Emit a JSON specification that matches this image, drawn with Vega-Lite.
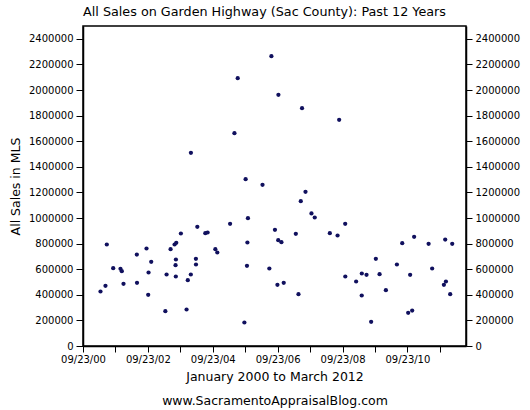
{
  "$schema": "https://vega.github.io/schema/vega-lite/v6.json",
  "width": 383,
  "height": 320,
  "autosize": "none",
  "padding": {"left": 83, "top": 26, "right": 64, "bottom": 64},
  "background": "white",
  "config": {
    "font": "DejaVu Sans",
    "view": {"stroke": "black", "strokeWidth": 1.5},
    "axis": {
      "domainColor": "black", "domainWidth": 1.5,
      "tickColor": "black", "tickWidth": 1, "tickSize": 6,
      "labelColor": "black", "labelFontSize": 10, "labelFont": "DejaVu Sans",
      "titleColor": "black", "titleFont": "DejaVu Sans", "titleFontWeight": "normal", "titleFontSize": 12.5,
      "grid": false
    }
  },
  "title": {
    "text": "All Sales on Garden Highway (Sac County): Past 12 Years",
    "font": "DejaVu Sans", "fontSize": 12.75, "fontWeight": "normal", "color": "black",
    "anchor": "middle", "frame": "group", "dx": -10, "offset": -2.5, "baseline": "alphabetic"
  },
  "data": {"values": [
    {"date": "2001-04-08", "price": 425800},
    {"date": "2001-06-03", "price": 470300},
    {"date": "2001-06-18", "price": 793000},
    {"date": "2001-08-29", "price": 607800},
    {"date": "2001-11-19", "price": 603100},
    {"date": "2001-12-04", "price": 584400},
    {"date": "2001-12-23", "price": 485900},
    {"date": "2002-05-22", "price": 714800},
    {"date": "2002-05-24", "price": 493750},
    {"date": "2002-09-08", "price": 761700},
    {"date": "2002-10-01", "price": 574200},
    {"date": "2002-09-27", "price": 400000},
    {"date": "2002-10-31", "price": 657800},
    {"date": "2003-04-08", "price": 271900},
    {"date": "2003-04-22", "price": 558600},
    {"date": "2003-06-06", "price": 756250},
    {"date": "2003-07-21", "price": 793000},
    {"date": "2003-08-09", "price": 806250},
    {"date": "2003-08-05", "price": 675800},
    {"date": "2003-08-01", "price": 631250},
    {"date": "2003-08-04", "price": 543000},
    {"date": "2003-09-30", "price": 878900},
    {"date": "2003-12-03", "price": 285150},
    {"date": "2003-12-17", "price": 514000},
    {"date": "2004-01-20", "price": 558600},
    {"date": "2004-01-21", "price": 1509000},
    {"date": "2004-03-17", "price": 681250},
    {"date": "2004-03-18", "price": 636700},
    {"date": "2004-04-02", "price": 931250},
    {"date": "2004-07-01", "price": 881250},
    {"date": "2004-07-27", "price": 886700},
    {"date": "2004-10-22", "price": 756250},
    {"date": "2004-11-13", "price": 730500},
    {"date": "2005-04-06", "price": 954700},
    {"date": "2005-05-25", "price": 1662500},
    {"date": "2005-07-01", "price": 2092200},
    {"date": "2005-09-14", "price": 183600},
    {"date": "2005-09-28", "price": 1303000},
    {"date": "2005-10-13", "price": 626600},
    {"date": "2005-10-18", "price": 808600},
    {"date": "2005-10-24", "price": 998400},
    {"date": "2006-04-06", "price": 1259400},
    {"date": "2006-06-22", "price": 605500},
    {"date": "2006-07-15", "price": 2264000},
    {"date": "2006-08-24", "price": 907800},
    {"date": "2006-09-21", "price": 478100},
    {"date": "2006-09-30", "price": 826600},
    {"date": "2006-10-02", "price": 1962500},
    {"date": "2006-11-05", "price": 810900},
    {"date": "2006-12-01", "price": 493750},
    {"date": "2007-04-16", "price": 876600},
    {"date": "2007-05-16", "price": 404700},
    {"date": "2007-06-11", "price": 1131250},
    {"date": "2007-06-25", "price": 1857800},
    {"date": "2007-08-03", "price": 1204700},
    {"date": "2007-10-09", "price": 1035200},
    {"date": "2007-11-15", "price": 1003900},
    {"date": "2008-05-03", "price": 881250},
    {"date": "2008-07-29", "price": 863300},
    {"date": "2008-08-16", "price": 1767200},
    {"date": "2008-10-23", "price": 954700},
    {"date": "2008-10-24", "price": 543000},
    {"date": "2009-02-23", "price": 503900},
    {"date": "2009-04-28", "price": 566400},
    {"date": "2009-04-27", "price": 394500},
    {"date": "2009-06-20", "price": 556250},
    {"date": "2009-08-11", "price": 189000},
    {"date": "2009-10-03", "price": 681250},
    {"date": "2009-11-14", "price": 560900},
    {"date": "2010-01-24", "price": 435900},
    {"date": "2010-05-28", "price": 636700},
    {"date": "2010-07-27", "price": 803100},
    {"date": "2010-10-02", "price": 259400},
    {"date": "2010-10-24", "price": 556250},
    {"date": "2010-11-16", "price": 277300},
    {"date": "2010-12-08", "price": 853100},
    {"date": "2011-05-20", "price": 798400},
    {"date": "2011-06-29", "price": 605500},
    {"date": "2011-11-08", "price": 478100},
    {"date": "2011-11-23", "price": 832000},
    {"date": "2011-12-01", "price": 503900},
    {"date": "2012-01-18", "price": 404700},
    {"date": "2012-02-10", "price": 798400}
  ]},
  "encoding": {
    "x": {
      "field": "date", "type": "temporal",
      "scale": {"type": "utc", "domain": [{"year": 2000, "month": 9, "date": 23, "utc": true}, {"year": 2012, "month": 7, "date": 14, "utc": true}], "nice": false},
      "axis": {
        "title": ["January 2000 to March 2012", "www.SacramentoAppraisalBlog.com"],
        "titleLineHeight": 24.6,
        "titlePadding": 6,
        "labelPadding": 2,
        "values": [
          {"year": 2000, "month": 9, "date": 23, "utc": true},
          {"year": 2001, "month": 9, "date": 23, "utc": true},
          {"year": 2002, "month": 9, "date": 23, "utc": true},
          {"year": 2003, "month": 9, "date": 23, "utc": true},
          {"year": 2004, "month": 9, "date": 23, "utc": true},
          {"year": 2005, "month": 9, "date": 23, "utc": true},
          {"year": 2006, "month": 9, "date": 23, "utc": true},
          {"year": 2007, "month": 9, "date": 23, "utc": true},
          {"year": 2008, "month": 9, "date": 23, "utc": true},
          {"year": 2009, "month": 9, "date": 23, "utc": true},
          {"year": 2010, "month": 9, "date": 23, "utc": true},
          {"year": 2011, "month": 9, "date": 23, "utc": true}
        ],
        "labelExpr": "utcyear(datum.value) % 2 == 0 ? utcFormat(datum.value, '%m/%d/%y') : ''",
        "labelFlush": false,
        "labelOverlap": false
      }
    }
  },
  "layer": [
    {
      "mark": {"type": "circle", "size": 18, "color": "#10105e", "opacity": 1},
      "encoding": {
        "y": {
          "field": "price", "type": "quantitative",
          "scale": {"domain": [0, 2500000], "nice": false},
          "axis": {
            "orient": "left", "title": "All Sales in MLS", "titlePadding": 6,
            "values": [0, 200000, 400000, 600000, 800000, 1000000, 1200000, 1400000, 1600000, 1800000, 2000000, 2200000, 2400000],
            "format": "d", "labelPadding": 3, "tickSize": 7
          }
        }
      }
    },
    {
      "mark": {"type": "circle", "size": 18, "opacity": 0},
      "encoding": {
        "y": {
          "field": "price", "type": "quantitative",
          "scale": {"domain": [0, 2500000], "nice": false},
          "axis": {
            "orient": "right", "title": null,
            "values": [0, 200000, 400000, 600000, 800000, 1000000, 1200000, 1400000, 1600000, 1800000, 2000000, 2200000, 2400000],
            "format": "d", "labelPadding": 3, "tickSize": 6
          }
        }
      }
    }
  ],
  "resolve": {"axis": {"y": "independent"}}
}
